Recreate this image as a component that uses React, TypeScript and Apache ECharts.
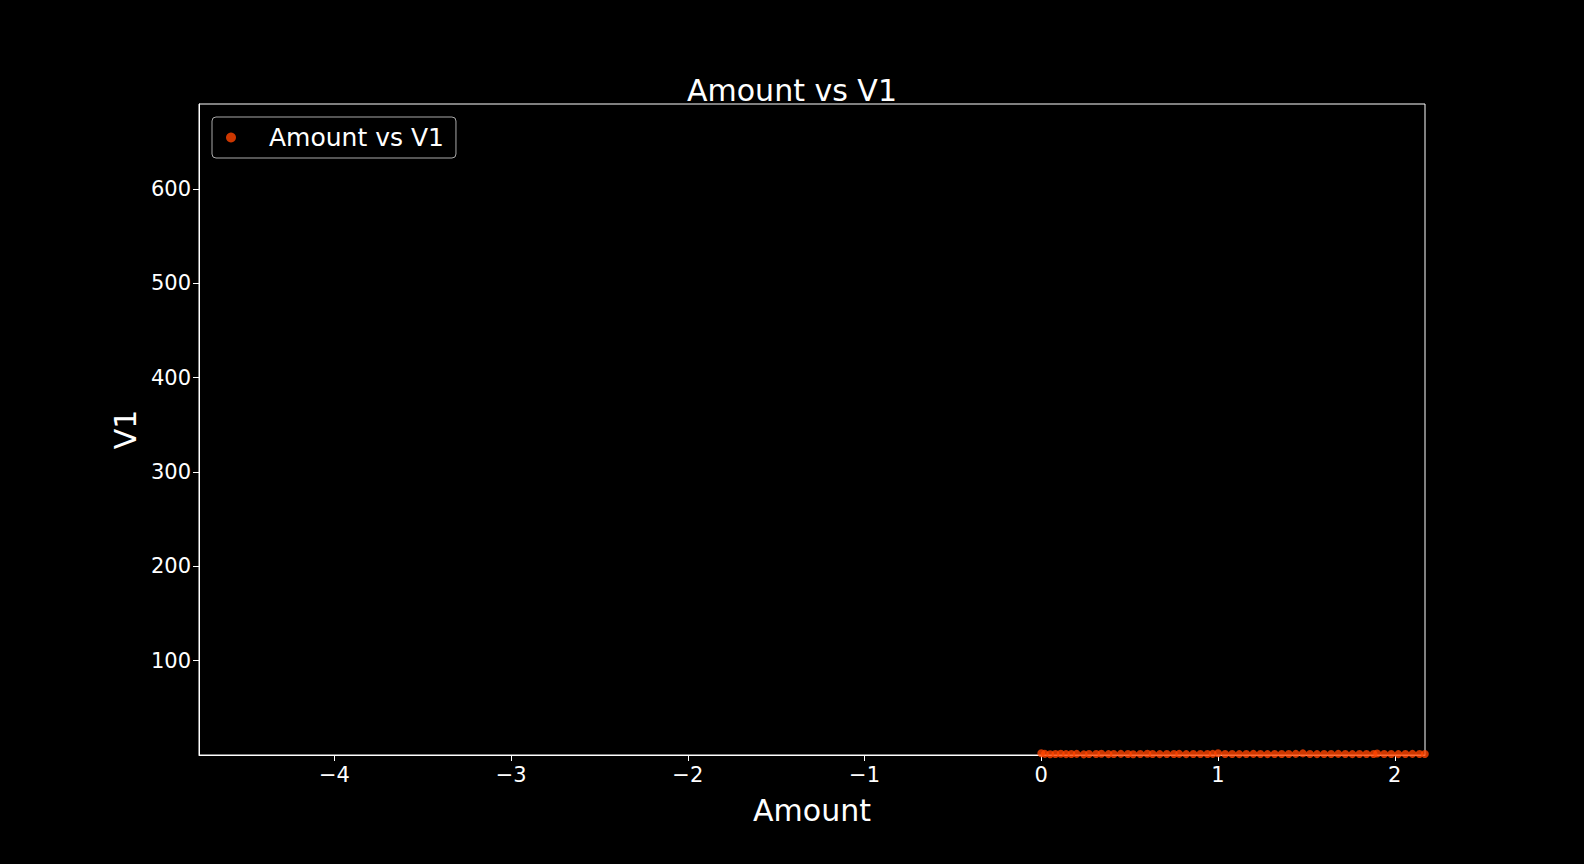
import * as echarts from "echarts";
import React, { useEffect, useRef } from "react";

// Amount (scaled) vs V1 — points hug the bottom of the axis
const amountValues = [
  0.0, 0.02, 0.05, 0.08, 0.11, 0.14, 0.17, 0.2, 0.24, 0.27, 0.31, 0.34, 0.38, 0.41, 0.45,
  0.49, 0.52, 0.56, 0.6, 0.63, 0.67, 0.71, 0.75, 0.78, 0.82, 0.86, 0.9, 0.94, 0.97, 1.0,
  1.04, 1.08, 1.12, 1.16, 1.2, 1.24, 1.28, 1.32, 1.36, 1.4, 1.44, 1.48, 1.52, 1.56, 1.6,
  1.64, 1.68, 1.72, 1.76, 1.8, 1.84, 1.88, 1.9, 1.94, 1.98, 2.02, 2.06, 2.1, 2.14, 2.17,
];
const v1Values = [
  1.9, 1.2, 0.8, 1.1, 1.3, 0.9, 1.0, 1.2, 0.7, 1.1, 1.0, 1.4, 0.9, 1.0, 1.2,
  1.1, 0.8, 1.0, 1.3, 1.0, 0.9, 1.1, 1.0, 1.2, 0.9, 1.0, 1.1, 1.0, 1.2, 1.8,
  1.0, 1.1, 0.9, 1.0, 1.2, 1.0, 0.9, 1.1, 1.0, 1.0, 1.2, 1.7, 1.0, 0.9, 1.1,
  1.0, 1.2, 1.0, 0.9, 1.0, 1.1, 1.0, 1.6, 1.0, 1.1, 0.9, 1.0, 1.2, 1.0, 1.1,
];
const xTicks = [-4, -3, -2, -1, 0, 1, 2];
const yTicks = [100, 200, 300, 400, 500, 600];

const fmt = (v: number) => String(v).replace("-", "\u2212");

export default function App() {
  const ref = useRef<HTMLDivElement>(null);

  useEffect(() => {
    if (!ref.current) return;
    const chart = echarts.init(ref.current, null, { renderer: "svg" });
    const font = "DejaVu Sans";
    chart.setOption({
      animation: false,
      backgroundColor: "#000000",
      textStyle: { fontFamily: font },
      title: {
        text: "Amount vs V1",
        left: "center",
        top: 70,
        textStyle: { color: "#ffffff", fontSize: 30, fontWeight: "normal", fontFamily: font },
      },
      legend: {
        left: 212,
        top: 117,
        padding: [8, 12, 8, 14],
        itemWidth: 22,
        itemHeight: 10,
        itemGap: 10,
        borderColor: "#aaaaaa",
        borderWidth: 1,
        borderRadius: 4,
        textStyle: { color: "#ffffff", fontSize: 25, fontFamily: font, padding: [0, 0, 0, 22] },
        data: [{ name: "Amount vs V1", icon: "circle" }],
      },
      grid: { left: 199, right: 159, top: 104, bottom: 109, show: true, borderColor: "#ffffff", borderWidth: 1 },
      xAxis: {
        type: "value",
        min: -4.766,
        max: 2.171,
        name: "Amount",
        nameLocation: "middle",
        nameGap: 40,
        nameTextStyle: { color: "#ffffff", fontSize: 30, fontFamily: font },
        axisLine: { show: true, onZero: false, lineStyle: { color: "#ffffff" } },
        axisTick: { show: true, customValues: xTicks, length: 6, lineStyle: { color: "#ffffff" } },
        axisLabel: { customValues: xTicks, color: "#ffffff", fontSize: 21, margin: 9, formatter: fmt },
        splitLine: { show: false },
      },
      yAxis: {
        type: "value",
        min: 0,
        max: 690,
        name: "V1",
        nameLocation: "middle",
        nameGap: 58,
        nameTextStyle: { color: "#ffffff", fontSize: 30, fontFamily: font },
        axisLine: { show: true, onZero: false, lineStyle: { color: "#ffffff" } },
        axisTick: { show: true, customValues: yTicks, length: 6, lineStyle: { color: "#ffffff" } },
        axisLabel: { customValues: yTicks, color: "#ffffff", fontSize: 21, margin: 8 },
        splitLine: { show: false },
      },
      series: [
        {
          name: "Amount vs V1",
          type: "scatter",
          symbolSize: 8,
          itemStyle: { color: "#ff4500" },
          data: amountValues.map((x, i) => [x, v1Values[i]]),
        },
      ],
    });
    return () => chart.dispose();
  }, []);

  return <div ref={ref} style={{ position: "fixed", left: 0, top: 0, width: 1584, height: 864 }} />;
}
